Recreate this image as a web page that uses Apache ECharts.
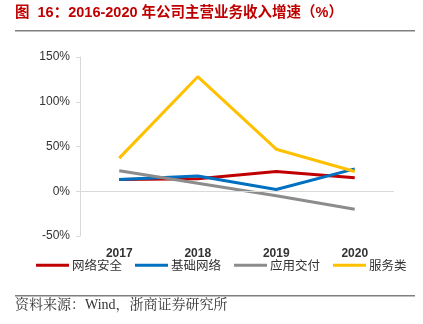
<!DOCTYPE html>
<html><head><meta charset="utf-8">
<script src="https://cdn.jsdelivr.net/npm/echarts@6/dist/echarts.min.js"></script>
<style>html,body{margin:0;padding:0;background:#fff}#c{width:423px;height:324px}</style>
</head><body><div id="c"></div>
<script>
const categories = ['2017', '2018', '2019', '2020'];
const netSecurity = [13, 14, 22, 15];
const infraNetwork = [13, 17, 2, 25];
const appDelivery = [23, 9, -5, -20];
const services = [37, 128, 47, 22];
const yTicks = [-50, 0, 50, 100, 150];

const chart = echarts.init(document.getElementById('c'));
const mk = (name, data, color) => ({
  name, type: 'line', data, symbol: 'none',
  lineStyle: { width: 3, color }, itemStyle: { color }
});
const s1 = mk('网络安全', netSecurity, '#c00000');
s1.markLine = { silent: true, symbol: 'none', label: { show: false },
  lineStyle: { color: '#d9d9d9', width: 1, type: 'solid' }, data: [{ yAxis: 0 }] };
chart.setOption({
  animation: false,
  textStyle: { fontFamily: 'Liberation Sans' },
  graphic: [
    { type: 'text', left: 15, top: 6, style: { text: '图  16：2016-2020 年公司主营业务收入增速（%）', fill: '#c00000', font: 'bold 14.5px "Liberation Sans","Noto Sans CJK SC"' } },
    { type: 'rect', shape: { x: 15, y: 30, width: 400, height: 1.5 }, style: { fill: '#7f7f7f' } },
    { type: 'rect', shape: { x: 15, y: 295, width: 400, height: 1.5 }, style: { fill: '#7f7f7f' } },
    { type: 'text', left: 15, top: 298, style: { text: '资料来源：Wind，浙商证券研究所', fill: '#333', font: '14px "Liberation Serif","Noto Serif CJK SC","Noto Sans CJK SC"' } }
  ],
  grid: { left: 80, right: 29, top: 57, bottom: 88 },
  legend: {
    top: 254, left: 31, itemWidth: 33, itemHeight: 3, itemGap: 13,
    icon: 'rect',
    textStyle: { fontSize: 12.5, color: '#333', fontFamily: '"Noto Sans CJK SC"', padding: [0, 0, 0, -2] },
    data: ['网络安全', '基础网络', '应用交付', '服务类']
  },
  xAxis: {
    type: 'category', data: categories, boundaryGap: true,
    axisLine: { show: false, onZero: false }, axisTick: { show: false },
    axisLabel: { color: '#333', fontSize: 12, margin: 12, fontWeight: 'bold' }
  },
  yAxis: {
    type: 'value', min: -50, max: 150, interval: 50,
    axisLine: { show: true, lineStyle: { color: '#d9d9d9' } },
    axisTick: { show: true, length: 4, lineStyle: { color: '#d9d9d9' } },
    splitLine: { show: false },
    axisLabel: { color: '#333', fontSize: 12, margin: 10, formatter: v => yTicks.includes(v) ? v + '%' : '' }
  },
  series: [
    s1,
    mk('基础网络', infraNetwork, '#0070c0'),
    mk('应用交付', appDelivery, '#8c8c8c'),
    mk('服务类', services, '#ffc000')
  ]
});
</script></body></html>
